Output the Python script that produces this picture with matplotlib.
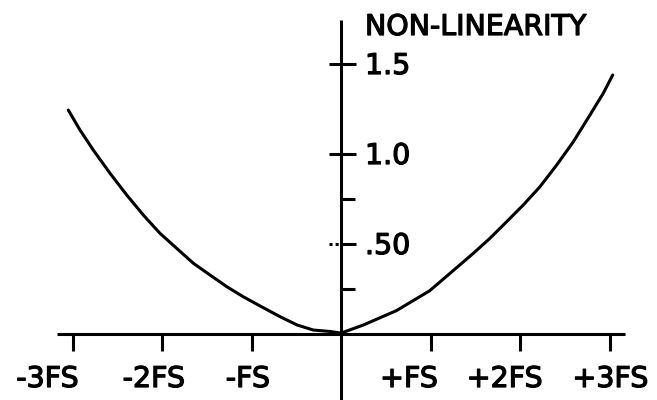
import numpy as np
import matplotlib.pyplot as plt
import matplotlib.patheffects as pe

# curve (x in units of FS, non-linearity value)
x_fs = [-3.047, -2.916, -2.768, -2.581, -2.394, -2.209, -2.022, -1.836, -1.650, -1.464,
        -1.277, -1.092, -0.924, -0.68, -0.49, -0.31, -0.12, 0.0,
        0.25, 0.62, 0.99, 1.218, 1.478, 1.665, 1.851, 2.037, 2.223, 2.410, 2.596, 2.782,
        2.931, 3.036]
nonlin = [1.244, 1.133, 1.022, 0.893, 0.772, 0.661, 0.559, 0.476, 0.393, 0.328,
          0.263, 0.207, 0.161, 0.096, 0.05, 0.022, 0.014, 0.005,
          0.05, 0.13, 0.24, 0.337, 0.448, 0.532, 0.624, 0.717, 0.818, 0.939, 1.068, 1.217,
          1.338, 1.439]

x_ticks = [-3, -2, -1, 1, 2, 3]
x_labels = ['-3FS', '-2FS', '-FS', '+FS', '+2FS', '+3FS']
x_label_pos = [-3.28, -2.09, -1.04, 0.76, 1.83, 3.01]   # hand lettering sits off-centre

y_major = [0.5, 1.0, 1.5]
y_major_labels = ['.50', '1.0', '1.5']
y_minor = [0.25, 0.75]

# figure maps 89.5 px per FS horizontally, 180 px per unit vertically
px_x = 89.5
px_y = 180.0
fig = plt.figure(figsize=(6.57, 4), dpi=100)
ax = fig.add_axes([0, 0, 1, 1])
ax.set_xlim(-341 / px_x, 316 / px_x)
ax.set_ylim(-66 / px_y, 334 / px_y)
ax.axis('off')

lw = 2.2
col = 'black'

# axes
ax.plot([-284 / px_x, 284 / px_x], [0, 0], color=col, lw=lw, solid_capstyle='butt')
ax.plot([0, 0], [-66 / px_y, 314 / px_y], color=col, lw=lw, solid_capstyle='butt')

# x ticks pointing down
for t in x_ticks:
    ax.plot([t, t], [0, -17 / px_y], color=col, lw=lw, solid_capstyle='butt')

# y ticks: major cross the axis, minor only to the right
for t in y_major:
    ls = (0, (1, 1)) if t == 0.5 else '-'
    ax.plot([-12 / px_x, 0], [t, t], color=col, lw=lw, ls=ls, solid_capstyle='butt')
    ax.plot([0, 15 / px_x], [t, t], color=col, lw=lw, solid_capstyle='butt')
for t in y_minor:
    ax.plot([0, 14 / px_x], [t, t], color=col, lw=lw, solid_capstyle='butt')

ax.plot(x_fs, nonlin, color=col, lw=lw, solid_joinstyle='round', solid_capstyle='round')

# lettering: regular weight, slightly thickened to look like pen strokes
thick = [pe.withStroke(linewidth=0.9, foreground=col)]
font = dict(family='DejaVu Sans', fontsize=20.5, color=col, path_effects=thick)
for xp, lab in zip(x_label_pos, x_labels):
    ax.text(xp, -53 / px_y, lab, ha='center', va='baseline', **font)
for t, lab in zip(y_major, y_major_labels):
    ax.text(24 / px_x, t - 10 / px_y, lab, ha='left', va='baseline', **font)

ax.text(24 / px_x, 299 / px_y, 'NON-LINEARITY', ha='left', va='baseline', **font)

fig.savefig('out.png', dpi=100)
